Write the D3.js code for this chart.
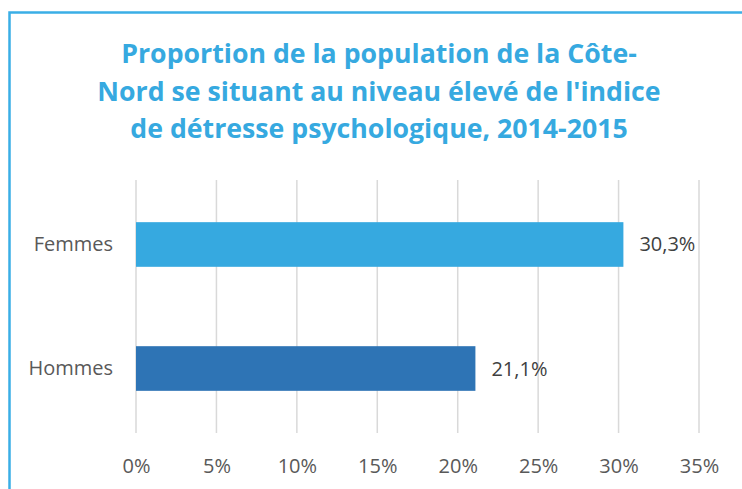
<!DOCTYPE html>
<html>
<head>
<meta charset="utf-8">
<script src="https://cdn.jsdelivr.net/npm/d3@7"></script>
<style>
  body { margin: 0; background: #fff; }
  svg { display: block; }
</style>
</head>
<body>
<div id="chart"></div>
<script>
// data
const categories = ["Femmes", "Hommes"]
const values = [30.3, 21.1]
const valueLabels = ["30,3%", "21,1%"]
const tickValues = [0, 5, 10, 15, 20, 25, 30, 35]
const titleLines = [
  "Proportion de la population de la Côte-",
  "Nord se situant au niveau élevé de l'indice",
  "de détresse psychologique, 2014-2015"
]
const barColors = ["#36a9e0", "#2e74b5"]

const width = 742
const height = 489
const margin = { top: 180, right: 43, bottom: 56, left: 136 }

const svg = d3.select("#chart").append("svg")
  .attr("width", width)
  .attr("height", height)

// outer frame (right and bottom edges fall outside the picture)
svg.append("rect")
  .attr("x", 9.5)
  .attr("y", 12.5)
  .attr("width", 760)
  .attr("height", 500)
  .attr("fill", "none")
  .attr("stroke", "#3aaee6")
  .attr("stroke-width", 2.5)

const title = svg.append("text")
  .attr("text-anchor", "middle")
  .attr("font-family", "'Open Sans', sans-serif")
  .attr("font-weight", "bold")
  .attr("font-size", 26.7)
  .attr("fill", "#36a9e0")

title.selectAll("tspan")
  .data(titleLines)
  .join("tspan")
  .attr("x", 379)
  .attr("y", (d, i) => 63 + i * 37.5)
  .text(d => d)

const x = d3.scaleLinear()
  .domain([0, 35])
  .range([margin.left, width - margin.right])

const y = d3.scaleBand()
  .domain(categories)
  .range([margin.top, height - margin.bottom])
  .paddingInner(0.64)
  .paddingOuter(0.34)

// vertical gridlines
svg.append("g")
  .selectAll("line")
  .data(tickValues)
  .join("line")
  .attr("x1", d => x(d))
  .attr("x2", d => x(d))
  .attr("y1", margin.top)
  .attr("y2", height - margin.bottom)
  .attr("stroke", "#d9d9d9")
  .attr("stroke-width", 1.5)

// x axis labels
const xAxis = svg.append("g")
  .attr("transform", "translate(0," + (height - margin.bottom) + ")")
  .call(d3.axisBottom(x).tickValues(tickValues).tickSize(0).tickPadding(26).tickFormat(d => d + "%"))

xAxis.select(".domain").remove()
xAxis.selectAll("text")
  .attr("font-family", "'Open Sans', sans-serif")
  .attr("font-size", 20)
  .attr("fill", "#595959")

// y axis labels
const yAxis = svg.append("g")
  .attr("transform", "translate(" + margin.left + ",0)")
  .call(d3.axisLeft(y).tickSize(0).tickPadding(23))

yAxis.select(".domain").remove()
yAxis.selectAll("text")
  .attr("font-family", "'Open Sans', sans-serif")
  .attr("font-size", 20)
  .attr("fill", "#595959")

// bars
svg.append("g")
  .selectAll("rect")
  .data(values)
  .join("rect")
  .attr("x", x(0))
  .attr("y", (d, i) => y(categories[i]))
  .attr("width", d => x(d) - x(0))
  .attr("height", y.bandwidth())
  .attr("fill", (d, i) => barColors[i])

// value labels
svg.append("g")
  .selectAll("text")
  .data(values)
  .join("text")
  .attr("x", d => x(d) + 16)
  .attr("y", (d, i) => y(categories[i]) + y.bandwidth() / 2)
  .attr("dy", "0.35em")
  .attr("font-family", "'Open Sans', sans-serif")
  .attr("font-size", 20)
  .attr("fill", "#404040")
  .text((d, i) => valueLabels[i])
</script>
</body>
</html>
